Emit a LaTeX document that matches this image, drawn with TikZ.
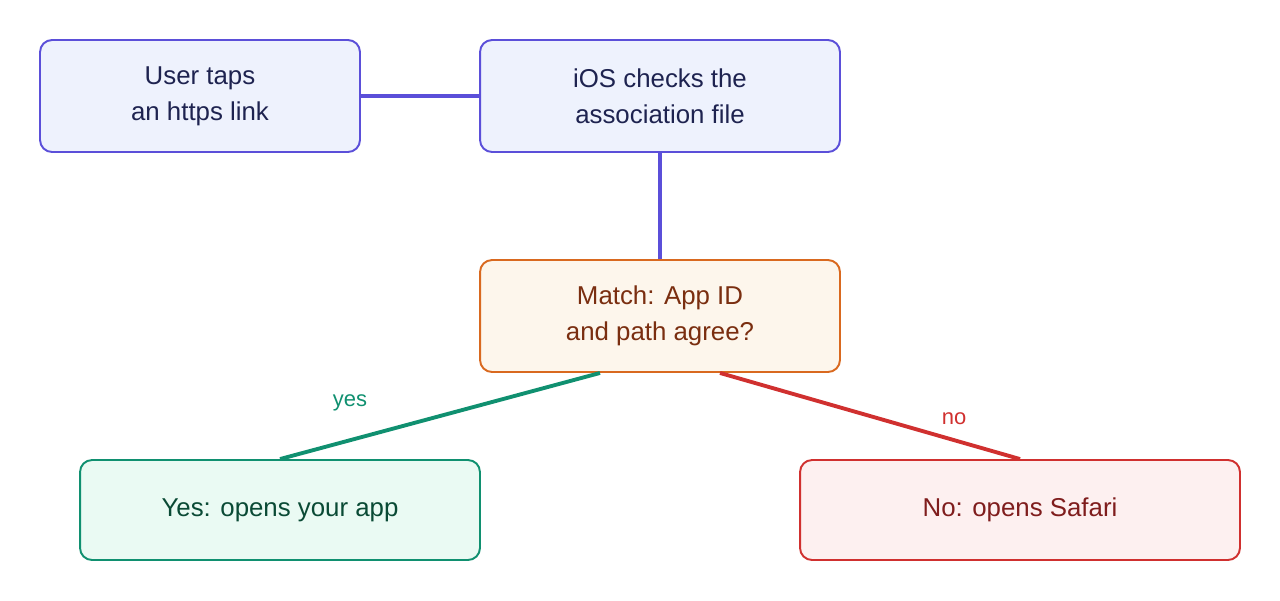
\documentclass[tikz,border=0pt]{standalone}
\usepackage{fontspec}
\setmainfont{Liberation Sans}
\usetikzlibrary{calc}

\definecolor{bluedraw}{HTML}{5B4FD9}
\definecolor{bluefill}{HTML}{EEF2FD}
\definecolor{bluetext}{HTML}{1E2350}
\definecolor{orgdraw}{HTML}{D9691F}
\definecolor{orgfill}{HTML}{FDF6EC}
\definecolor{orgtext}{HTML}{7A2E10}
\definecolor{grndraw}{HTML}{109070}
\definecolor{grnfill}{HTML}{EAFAF3}
\definecolor{grntext}{HTML}{0A4A35}
\definecolor{reddraw}{HTML}{D0302F}
\definecolor{redfill}{HTML}{FDF0F0}
\definecolor{redtext}{HTML}{7F1D1D}

\begin{document}
\begin{tikzpicture}[x=0.02cm,y=-0.02cm,
	box/.style={rounded corners=0.24cm, line width=1.1pt, inner sep=0pt,
		align=center, font=\fontsize{14.7}{20.5}\selectfont},
	link/.style={line width=2.2pt}]

% canvas %{{{2

	\useasboundingbox (0,0) rectangle (1280,600);

% boxes %{{{2

	\node[box, draw=bluedraw, fill=bluefill, text=bluetext,
		minimum width=6.4cm, minimum height=2.24cm]
		(tap) at (200,96) {User taps\\an https link};
	\node[box, draw=bluedraw, fill=bluefill, text=bluetext,
		minimum width=7.2cm, minimum height=2.24cm]
		(check) at (660,96) {iOS checks the\\association file};
	\node[box, draw=orgdraw, fill=orgfill, text=orgtext,
		minimum width=7.2cm, minimum height=2.24cm]
		(match) at (660,316) {Match: App ID\\and path agree?};
	\node[box, draw=grndraw, fill=grnfill, text=grntext,
		minimum width=8cm, minimum height=2cm]
		(app) at (280,510) {Yes: opens your app};
	\node[box, draw=reddraw, fill=redfill, text=redtext,
		minimum width=8.8cm, minimum height=2cm]
		(safari) at (1020,510) {No: opens Safari};

% connectors %{{{2

	\coordinate (m1) at ($(match.south)+(-60,0)$);
	\coordinate (m2) at ($(match.south)+(60,0)$);

	\draw[link, bluedraw] (tap) -- (check);
	\draw[link, bluedraw] (check) -- (match);
	\draw[link, grndraw] (m1) -- (app.north);
	\draw[link, reddraw] (m2) -- (safari.north);

% labels %{{{2

	\node[text=grndraw, font=\fontsize{12.5}{15}\selectfont] (yes) at (350,403) {yes};
	\node[text=reddraw, font=\fontsize{12.5}{15}\selectfont] (no) at (954,419) {no};

\end{tikzpicture}
\end{document}
